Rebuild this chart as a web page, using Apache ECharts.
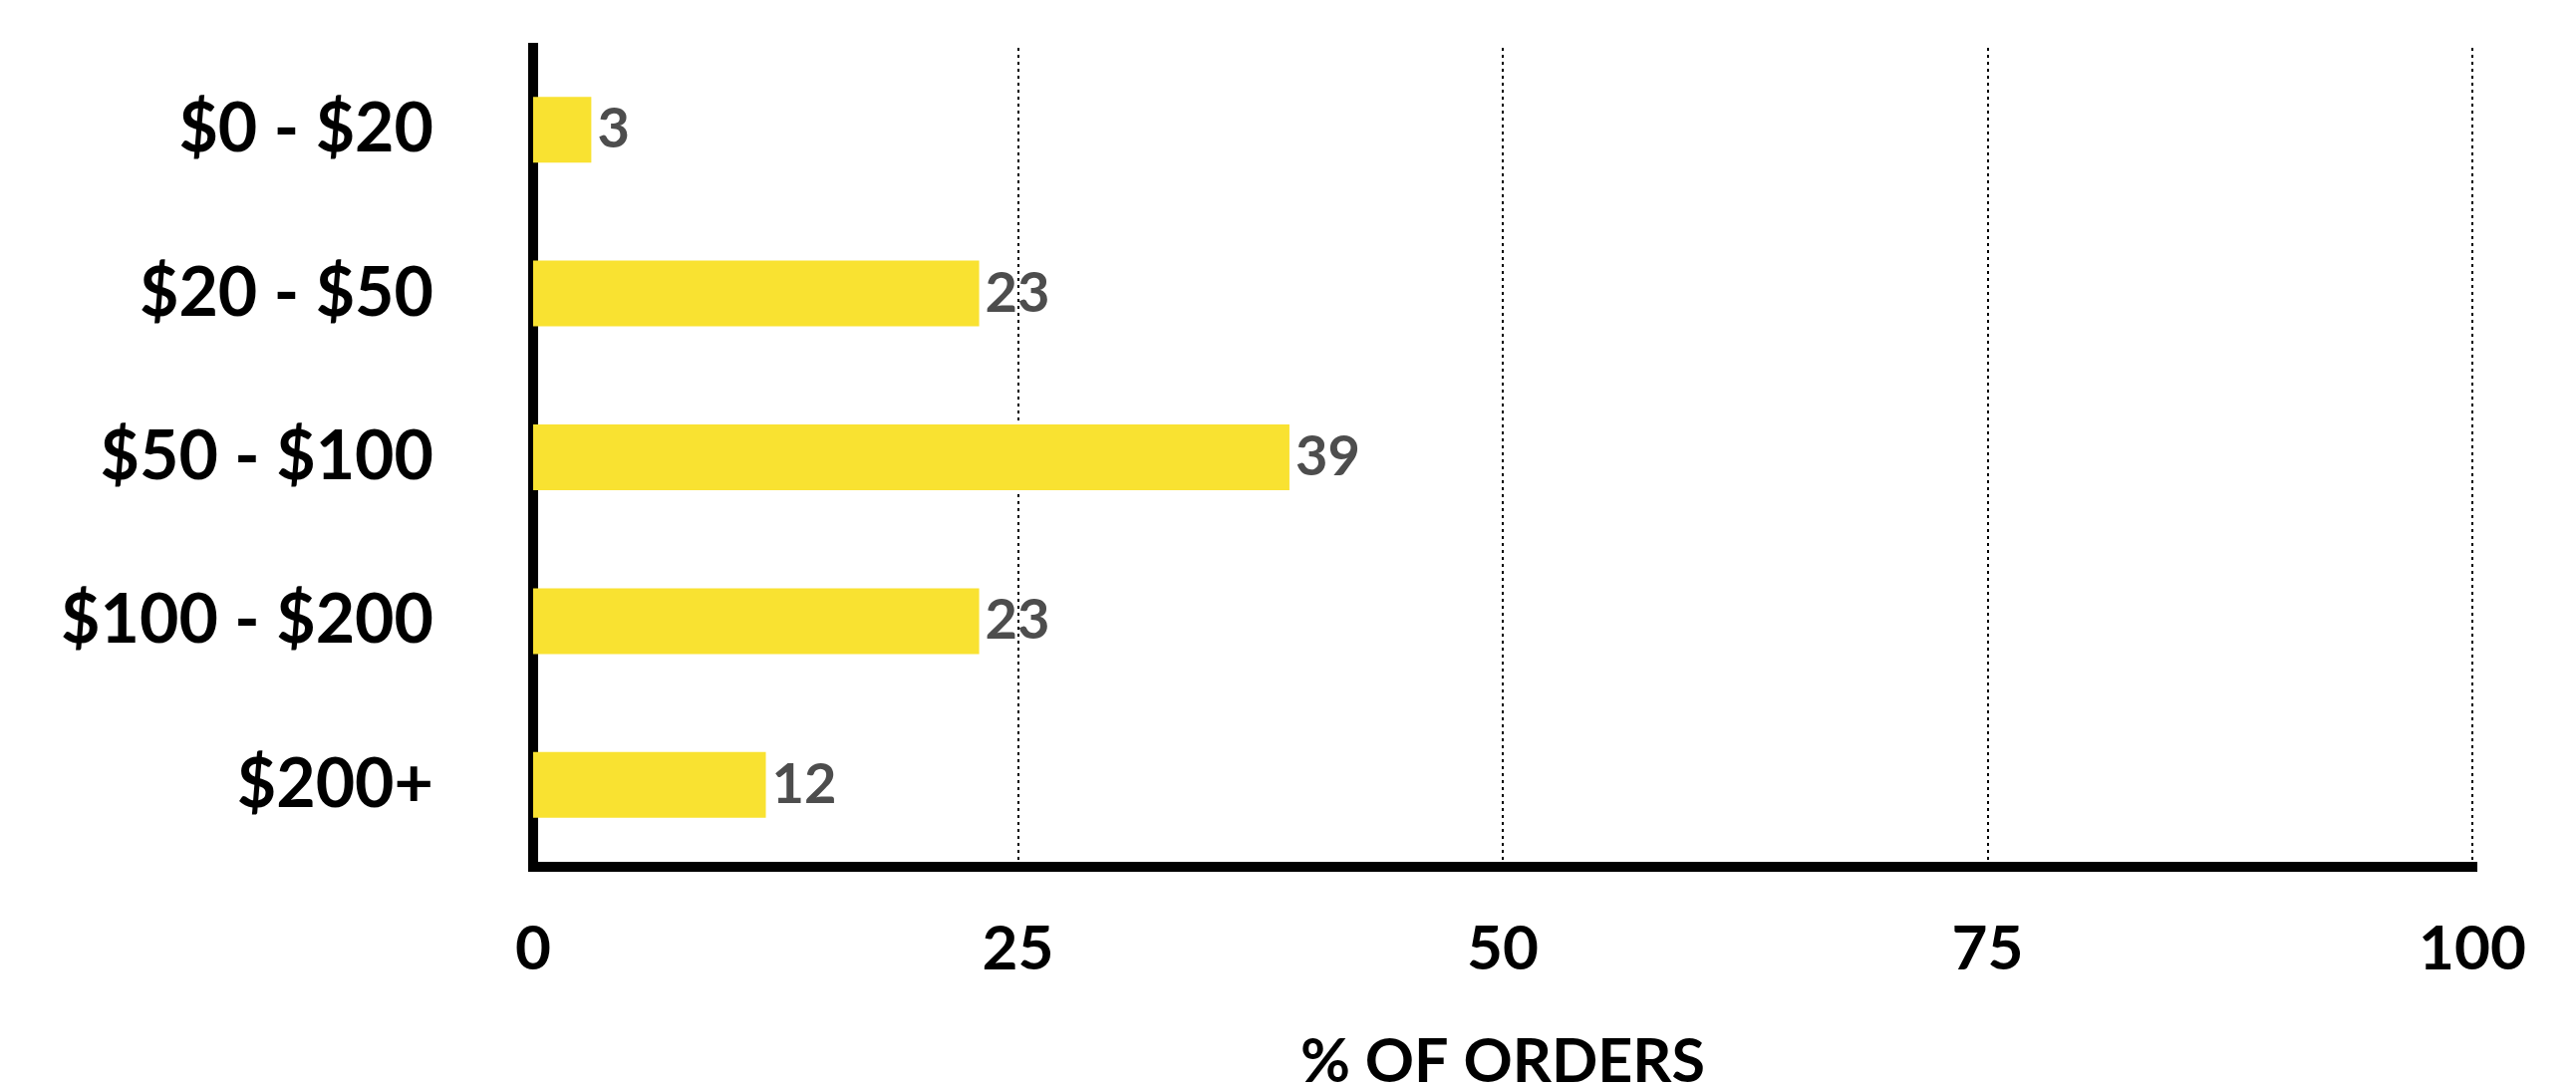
<!DOCTYPE html>
<html>
<head>
<meta charset="utf-8">
<script src="https://cdn.jsdelivr.net/npm/echarts@6/dist/echarts.min.js"></script>
<style>
html,body{margin:0;padding:0;background:#fff;}
#chart{width:2585px;height:1092px;}
</style>
</head>
<body>
<div id="chart"></div>
<script>
const categories = ['$0 - $20', '$20 - $50', '$50 - $100', '$100 - $200', '$200+'];
const values = [3, 23, 39, 23, 12];
const xTicks = [0, 25, 50, 75, 100];
const axisTitle = '% OF ORDERS';

const FONT = 'Lato, "Noto Sans", sans-serif';
const chart = echarts.init(document.getElementById('chart'));
chart.setOption({
  backgroundColor: '#ffffff',
  animation: false,
  grid: { left: 535, right: 104, top: 48, bottom: 222, containLabel: false, outerBoundsMode: 'none' },
  xAxis: {
    type: 'value',
    min: xTicks[0],
    max: xTicks[xTicks.length - 1],
    interval: xTicks[1] - xTicks[0],
    name: axisTitle,
    nameLocation: 'middle',
    nameGap: 166,
    nameTextStyle: { fontFamily: FONT, fontWeight: 'bold', fontSize: 61, color: '#000' },
    axisLine: { show: true, lineStyle: { color: '#000', width: 10, cap: 'square' } },
    axisTick: { show: false },
    axisLabel: { fontFamily: FONT, fontWeight: 'bold', fontSize: 62, color: '#000', margin: 52 },
    splitLine: { show: true, lineStyle: { color: '#000', width: 2, type: [3, 4] } }
  },
  yAxis: {
    type: 'category',
    data: categories,
    inverse: true,
    axisLine: { show: true, lineStyle: { color: '#000', width: 10, cap: 'square' } },
    axisTick: { show: false },
    axisLabel: { fontFamily: FONT, fontWeight: 'bold', fontSize: 68, color: '#000', margin: 100 },
    splitLine: { show: false }
  },
  series: [{
    type: 'bar',
    data: values,
    barWidth: 66,
    itemStyle: { color: '#F9E231' },
    label: {
      show: true,
      position: 'right',
      distance: 6,
      fontFamily: FONT,
      fontWeight: 'bold',
      fontSize: 56,
      color: '#4D4D4D'
    }
  }]
});
</script>
</body>
</html>
